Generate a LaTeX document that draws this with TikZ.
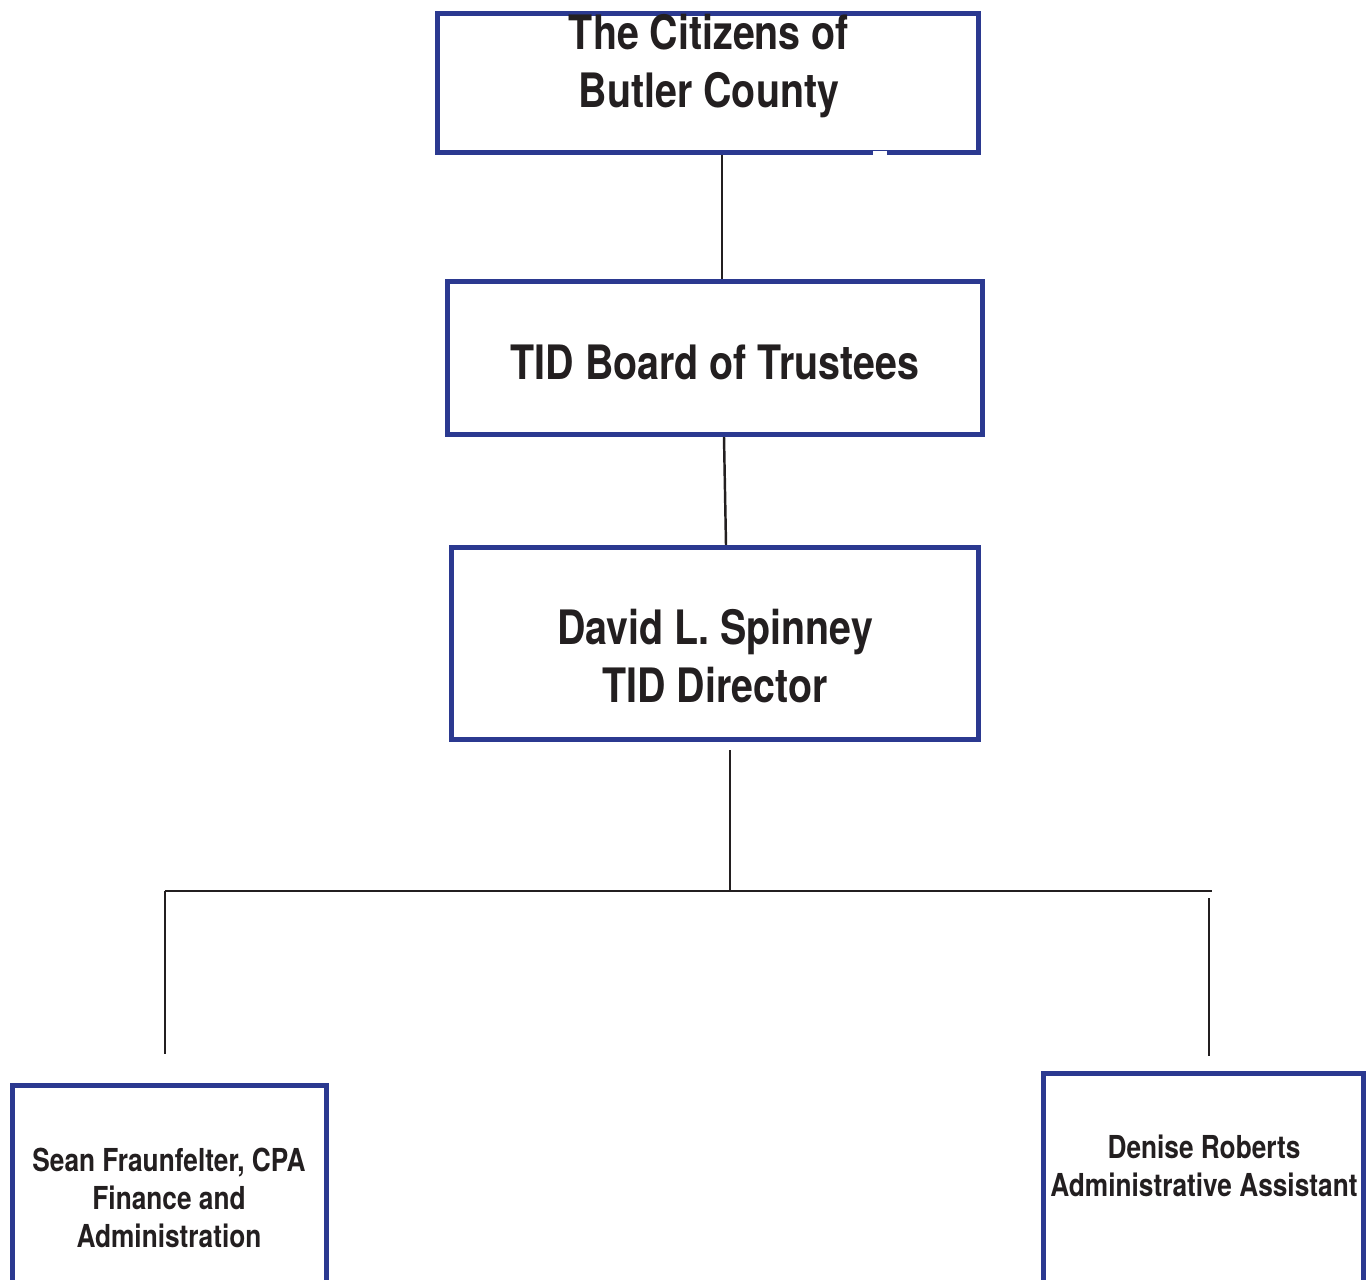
\documentclass[tikz,border=0pt]{standalone}
\usepackage{fontspec}
\usepackage{xcolor}
\usepackage{tikz}
\usetikzlibrary{positioning}
\newfontfamily\condfont[FakeStretch=0.83]{TeX Gyre Heros}
\definecolor{boxblue}{RGB}{43,57,144}
\definecolor{inkline}{RGB}{35,31,32}
\tikzstyle{orgbox} = [rectangle, draw = boxblue, line width = 3pt, inner sep = 0]
\tikzstyle{bigtxt} = [align = center, inner sep = 0, text = inkline, font = \condfont\bfseries\fontsize{27}{33}\selectfont]
\tikzstyle{smalltxt} = [align = center, inner sep = 0, text = inkline, font = \condfont\bfseries\fontsize{18}{21.6}\selectfont]
\tikzstyle{link} = [-, draw = inkline, line width = 1.4pt]

\begin{document}
\begin{tikzpicture}[x = 0.02cm, y = -0.02cm]
\useasboundingbox (0, 0) rectangle (1369, 1279);
\clip (0, 0) rectangle (1369, 1279);
\node [orgbox, minimum width = 10.82cm, minimum height = 2.78cm] (citizens) at (708, 83) {};
\node [bigtxt] (citizensTxt) at (709, 66) {The Citizens of\\Butler County};
\fill [white] (873, 151) rectangle (887, 158);
\node [orgbox, minimum width = 10.70cm, minimum height = 3.06cm] (board) at (715, 358) {};
\node [bigtxt] (boardTxt) at (715, 362) {TID Board of Trustees};
\node [orgbox, minimum width = 10.54cm, minimum height = 3.84cm] (director) at (715, 643.5) {};
\node [bigtxt] (directorTxt) at (715, 656) {David L. Spinney\\TID Director};
\node [orgbox, minimum width = 6.28cm, minimum height = 6cm] (finance) at (169.5, 1235.5) {};
\node [smalltxt] (financeTxt) at (169, 1198) {Sean Fraunfelter, CPA\\Finance and\\Administration};
\node [orgbox, minimum width = 6.40cm, minimum height = 6cm] (assistant) at (1203.5, 1223.5) {};
\node [smalltxt] (assistantTxt) at (1204, 1166) {Denise Roberts\\Administrative Assistant};
% bus and drops
\coordinate (dirOut) at (730, 750);
\coordinate (busMid) at (730, 891);
\coordinate (busL) at (165, 891);
\coordinate (busR) at (1212, 891);
\coordinate (finDrop) at (165, 1054);
\coordinate (asstTop) at (1209, 898);
\coordinate (asstDrop) at (1209, 1056);
\draw [link] (citizens.south -| 722, 0) to (board.north -| 722, 0);
\draw [link] (board.south -| 724, 0) to (director.north -| 726, 0);
\draw [link] (dirOut) to (busMid);
\draw [link] (busL) to (busR);
\draw [link] (busL) to (finDrop);
\draw [link] (asstTop) to (asstDrop);
\end{tikzpicture}
\end{document}
